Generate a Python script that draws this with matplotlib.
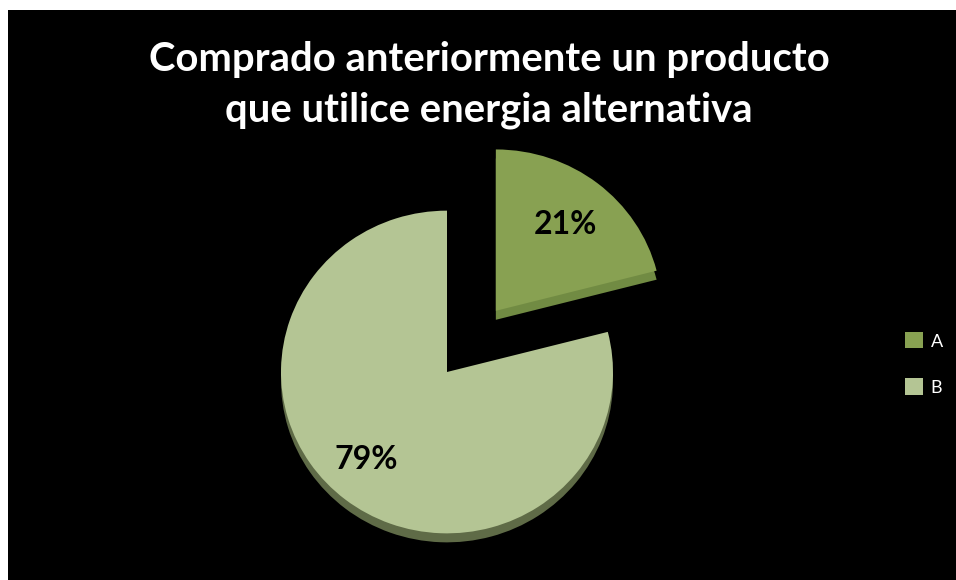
import matplotlib
matplotlib.use("Agg")
import matplotlib.pyplot as plt
import numpy as np
from matplotlib.patches import Rectangle, Patch

# Data
categories = ["A", "B"]
shares = [21, 79]
title_lines = ["Comprado anteriormente un producto", "que utilice energia alternativa"]

top_colors = ["#88a152", "#b4c594"]
side_colors = ["#718b43", "#5f6b47"]

W, H = 956, 580
SQ = 0.972          # vertical squash of the tilted pie
fig = plt.figure(figsize=(W / 100, H / 100), dpi=100, facecolor="white")
fig.patches.append(Rectangle((8 / W, 0), 1 - 8 / W, 1 - 10 / H,
                             transform=fig.transFigure, facecolor="black",
                             edgecolor="none", zorder=-10))

ax = fig.add_axes([0, 0, 1, 1])
ax.set_axis_off()

cx, cy_img = 447, 372
radius = 166
# pie offsets are in data units
explode = [0.48 * radius, 0.0]
center = (cx, (H - cy_img) / SQ)
depth = 9 / SQ

common = dict(startangle=90, counterclock=False, radius=radius, explode=explode,
              wedgeprops=dict(linewidth=0))

# side of the slab
ax.pie(shares, colors=side_colors, center=(center[0], center[1] - depth), **common)
# top surface
wedges, _ = ax.pie(shares, colors=top_colors, center=center, **common)

ax.set_xlim(0, W)
ax.set_ylim(0, H / SQ)
ax.set_aspect("auto")

# percentage labels placed along each wedge's bisector
label_dist = [0.68, 0.73]
label_turn = [0.0, -4.0]
for w, val, d, t in zip(wedges, shares, label_dist, label_turn):
    mid = np.deg2rad((w.theta1 + w.theta2) / 2 + t)
    x = w.center[0] + d * w.r * np.cos(mid)
    y = w.center[1] + d * w.r * np.sin(mid)
    ax.text(x, y, f"{val}%", ha="center", va="center", fontsize=23,
            fontweight="bold", family="Lato", color="black", zorder=5)

fig.text(489 / W, 1 - 60 / H, title_lines[0], ha="center", va="center",
         fontsize=28.8, fontweight="bold", family="Lato", color="white")
fig.text(489 / W, 1 - 110 / H, title_lines[1], ha="center", va="center",
         fontsize=28.8, fontweight="bold", family="Lato", color="white")

handles = [Patch(facecolor=c, edgecolor="none") for c in top_colors]
leg = fig.legend(handles, categories, loc="center left",
                 bbox_to_anchor=(889 / W, 1 - 364 / H), frameon=False,
                 labelcolor="white", prop=dict(family="Lato", size=13),
                 handlelength=1.0, handleheight=1.0, handletextpad=0.4,
                 labelspacing=1.6)

fig.savefig("out.png", dpi=100, facecolor="white")
